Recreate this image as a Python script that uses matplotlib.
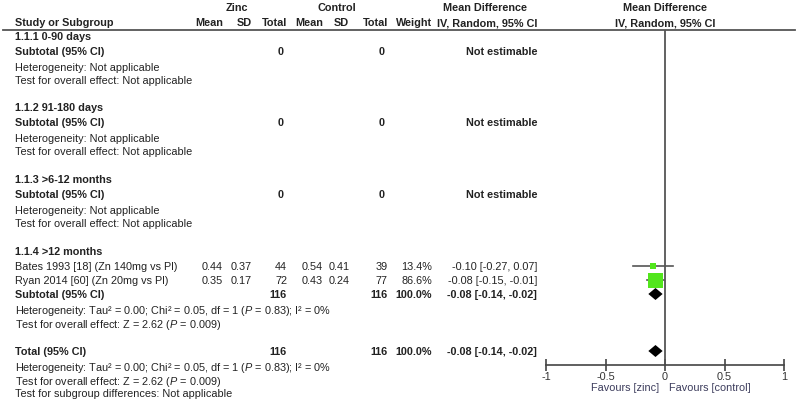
import matplotlib
matplotlib.use("Agg")
import matplotlib.pyplot as plt
import numpy as np

# === DATA ===
subgroups = ["1.1.1 0-90 days", "1.1.2 91-180 days", "1.1.3 >6-12 months", "1.1.4 >12 months"]
studies = ["Bates 1993 [18] (Zn 140mg vs Pl)", "Ryan 2014 [60] (Zn 20mg vs Pl)"]
zinc_mean = [0.44, 0.35]
zinc_sd = [0.37, 0.17]
zinc_n = [44, 72]
ctrl_mean = [0.54, 0.43]
ctrl_sd = [0.41, 0.24]
ctrl_n = [39, 77]
weights = [13.4, 86.6]
md = [-0.10, -0.08]
md_lo = [-0.27, -0.15]
md_hi = [0.07, -0.01]
pooled = [-0.08, -0.14, -0.02]   # estimate, lower, upper
total_zinc = 116
total_ctrl = 116
het_text = "Heterogeneity: Tau\u00b2 = 0.00; Chi\u00b2 = 0.05, df = 1 ($\\it{P}$ = 0.83); I\u00b2 = 0%"
effect_text = "Test for overall effect: Z = 2.62 ($\\it{P}$ = 0.009)"
ticks = [-1, -0.5, 0, 0.5, 1]
tick_labels = ["-1", "-0.5", "0", "0.5", "1"]

# === STYLE ===
plt.rcParams["font.family"] = ["Liberation Sans", "DejaVu Sans"]
plt.rcParams["mathtext.fontset"] = "custom"
plt.rcParams["mathtext.rm"] = "Liberation Sans"
plt.rcParams["mathtext.it"] = "Liberation Sans:italic"
FS = 7.8
TXT = "#222222"
GREEN = "#52e61c"

W, H = 799, 406
fig = plt.figure(figsize=(W / 100, H / 100), dpi=100)
fig.patch.set_facecolor("white")

# text layer in pixel coordinates
ax = fig.add_axes([0, 0, 1, 1])
ax.set_xlim(0, W)
ax.set_ylim(H, 0)
ax.axis("off")


def t(x, y, s, ha="left", bold=False, color=TXT):
    ax.text(x, y, s, ha=ha, va="center", fontsize=FS, color=color,
            fontweight="bold" if bold else "normal")


# column right edges
X_STUDY = 15
X_ZM, X_ZS, X_ZN = 223, 252, 287
X_CM, X_CS, X_CN = 323, 350, 388
X_W = 432
X_CI = 537

# header
t(237, 8, "Zinc", ha="center", bold=True)
t(337, 8, "Control", ha="center", bold=True)
t(485, 8, "Mean Difference", ha="center", bold=True)
t(665, 8, "Mean Difference", ha="center", bold=True)
t(X_STUDY, 23, "Study or Subgroup", bold=True)
for x, s in [(X_ZM, "Mean"), (X_ZS, "SD"), (X_ZN, "Total"), (X_CM, "Mean"),
             (X_CS - 1, "SD"), (X_CN, "Total"), (X_W, "Weight")]:
    t(x, 23, s, ha="right", bold=True)
t(X_CI, 23, "IV, Random, 95% CI", ha="right", bold=True)
t(665, 23, "IV, Random, 95% CI", ha="center", bold=True)
ax.plot([3, 795], [31, 31], color="#555555", lw=1.3)

# empty subgroups
empty_rows = [37, 108, 180]
for name, y in zip(subgroups[:3], empty_rows):
    t(X_STUDY, y, name, bold=True)
    t(X_STUDY, y + 15, "Subtotal (95% CI)", bold=True)
    t(X_ZN - 3, y + 15, "0", ha="right", bold=True)
    t(X_CN - 3, y + 15, "0", ha="right", bold=True)
    t(X_CI, y + 15, "Not estimable", ha="right", bold=True)
    t(X_STUDY, y + 31, "Heterogeneity: Not applicable")
    t(X_STUDY, y + 44, "Test for overall effect: Not applicable")

# subgroup with studies
t(X_STUDY, 252, subgroups[3], bold=True)
study_rows = [267, 281]
for i, y in enumerate(study_rows):
    t(X_STUDY, y, studies[i])
    t(X_ZM, y, f"{zinc_mean[i]:.2f}", ha="right")
    t(X_ZS, y, f"{zinc_sd[i]:.2f}", ha="right")
    t(X_ZN, y, f"{zinc_n[i]}", ha="right")
    t(X_CM, y, f"{ctrl_mean[i]:.2f}", ha="right")
    t(X_CS, y, f"{ctrl_sd[i]:.2f}", ha="right")
    t(X_CN, y, f"{ctrl_n[i]}", ha="right")
    t(X_W, y, f"{weights[i]:.1f}%", ha="right")
    t(X_CI, y, f"{md[i]:.2f} [{md_lo[i]:.2f}, {md_hi[i]:.2f}]", ha="right")

pooled_rows = [295, 352]
for y, label in zip(pooled_rows, ["Subtotal (95% CI)", "Total (95% CI)"]):
    t(X_STUDY, y, label, bold=True)
    t(X_ZN, y, f"{total_zinc}", ha="right", bold=True)
    t(X_CN, y, f"{total_ctrl}", ha="right", bold=True)
    t(X_W, y, f"{sum(weights):.1f}%", ha="right", bold=True)
    t(X_CI, y, f"{pooled[0]:.2f} [{pooled[1]:.2f}, {pooled[2]:.2f}]", ha="right", bold=True)
    t(X_STUDY, y + 16, het_text)
    t(X_STUDY, y + 30, effect_text)
t(X_STUDY, 394, "Test for subgroup differences: Not applicable")

# forest panel: x in mean difference units, y in pixel rows
x0, x1 = 546, 784
axf = fig.add_axes([x0 / W, 0, (x1 - x0) / W, 1])
axf.set_xlim(-1, 1)
axf.set_ylim(H, 0)
axf.patch.set_alpha(0)
for s in ["top", "left", "right"]:
    axf.spines[s].set_visible(False)
axf.spines["bottom"].set_position(("data", 366))
axf.spines["bottom"].set_color("#444444")
axf.spines["bottom"].set_linewidth(1.2)
axf.set_xticks(ticks)
axf.set_xticklabels(tick_labels)
axf.tick_params(axis="x", direction="inout", length=8, width=1.2, color="#444444",
                labelsize=FS, labelcolor="#333333", pad=0)
axf.set_yticks([])

axf.vlines(0, 31, 366, color="#555555", lw=1.3)

# study CIs and weighted squares
for i, y in enumerate(study_rows):
    axf.plot([md_lo[i], md_hi[i]], [y, y], color="#555555", lw=1.2, zorder=2)
    size = 15 * np.sqrt(weights[i] / max(weights))
    axf.plot(md[i], y, marker="s", ms=size * 0.72, color=GREEN, mew=0, zorder=3)

# pooled diamonds
for y in pooled_rows:
    axf.fill([pooled[1], pooled[0], pooled[2], pooled[0]], [y, y - 6, y, y + 6],
             color="black", lw=0, zorder=3)

t(659, 388, "Favours [zinc]", ha="right", color="#3c3c5c")
t(669, 388, "Favours [control]", color="#3c3c5c")

fig.savefig("out.png", dpi=100, facecolor="white")
